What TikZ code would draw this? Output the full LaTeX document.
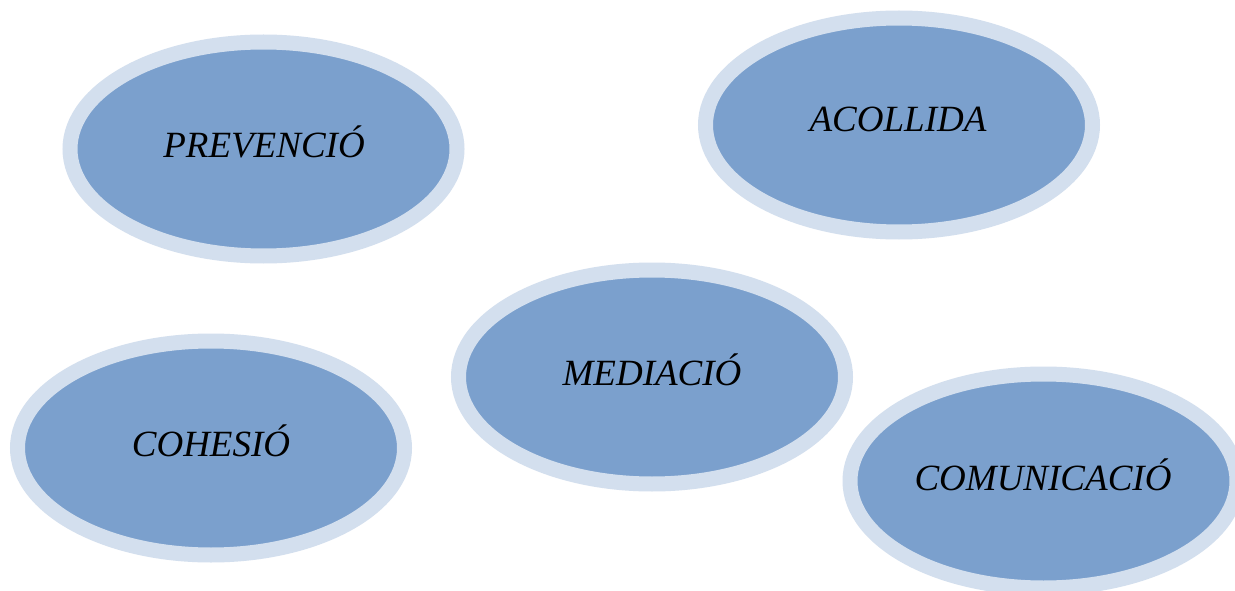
\documentclass[tikz,border=0pt]{standalone}
\usepackage{fontspec}
\setmainfont{Liberation Serif}
\usetikzlibrary{shapes.geometric}
\definecolor{fillblue}{HTML}{7BA0CD}
\definecolor{ringblue}{HTML}{D3DFEE}
\tikzset{
  oval/.style={ellipse, draw=ringblue, fill=fillblue, line width=15pt,
    minimum width=387pt, minimum height=214pt, inner sep=0pt},
  lbl/.style={font=\fontsize{37}{40}\selectfont\itshape, text=black}
}
\begin{document}
\begin{tikzpicture}[x=1pt,y=-1pt]
\useasboundingbox (0,0) rectangle (1235,591);
\clip (0,0) rectangle (1235,591);
\fill[white] (0,0) rectangle (1235,591);
\node[oval] (prev) at (263.5,149) {};
\node[oval] (acol) at (899,125) {};
\node[oval] (med) at (652,377) {};
\node[oval] (coh) at (211,448) {};
\node[oval] (com) at (1043.5,481) {};
\node[lbl] (tprev) at (264,142) {PREVENCIÓ};
\node[lbl] (tacol) at (898,119) {ACOLLIDA};
\node[lbl] (tmed) at (652,370) {MEDIACIÓ};
\node[lbl] (tcoh) at (211,441) {COHESIÓ};
\node[lbl] (tcom) at (1043,475) {COMUNICACIÓ};
\end{tikzpicture}
\end{document}
